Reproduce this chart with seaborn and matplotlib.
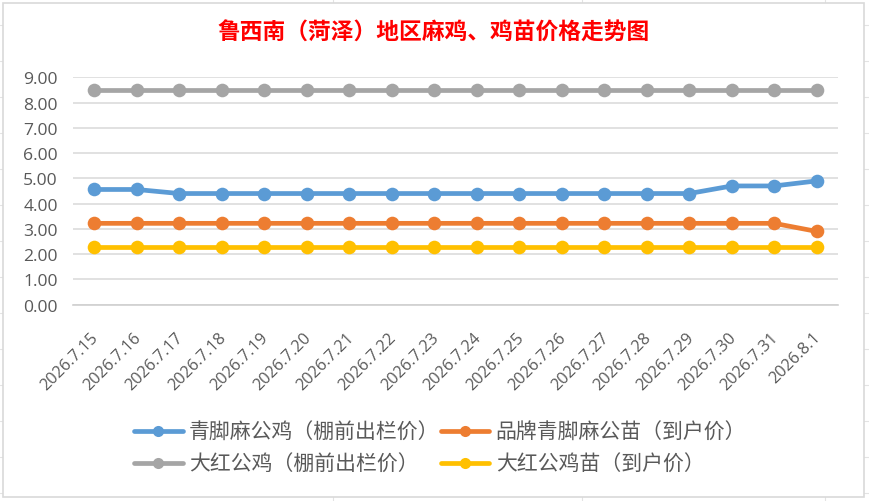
import matplotlib
matplotlib.use("Agg")
import matplotlib.pyplot as plt
from matplotlib.transforms import ScaledTranslation
from matplotlib.lines import Line2D
from matplotlib.patches import Rectangle
import seaborn as sns
import pandas as pd

# ---- data ----
dates = ["2026.7.15", "2026.7.16", "2026.7.17", "2026.7.18", "2026.7.19", "2026.7.20",
         "2026.7.21", "2026.7.22", "2026.7.23", "2026.7.24", "2026.7.25", "2026.7.26",
         "2026.7.27", "2026.7.28", "2026.7.29", "2026.7.30", "2026.7.31", "2026.8.1"]
s_blue_name = "青脚麻公鸡（棚前出栏价）"
s_orange_name = "品牌青脚麻公苗（到户价）"
s_gray_name = "大红公鸡（棚前出栏价）"
s_yellow_name = "大红公鸡苗（到户价）"
s_blue = [4.56, 4.56, 4.4, 4.4, 4.4, 4.4, 4.4, 4.4, 4.4, 4.4, 4.4, 4.4, 4.4, 4.4, 4.4, 4.7, 4.7, 4.9]
s_orange = [3.22, 3.22, 3.22, 3.22, 3.22, 3.22, 3.22, 3.22, 3.22, 3.22, 3.22, 3.22, 3.22, 3.22, 3.22, 3.22, 3.22, 2.9]
s_gray = [8.5] * 18
s_yellow = [2.28] * 18
yticks = [0, 1, 2, 3, 4, 5, 6, 7, 8, 9]
title = "鲁西南（菏泽）地区麻鸡、鸡苗价格走势图"

series_names = [s_blue_name, s_orange_name, s_gray_name, s_yellow_name]
series_vals = [s_blue, s_orange, s_gray, s_yellow]
colors = ["#5B9BD5", "#ED7D31", "#A5A5A5", "#FFC000"]

rows = []
for name, vals in zip(series_names, series_vals):
    for i, v in enumerate(vals):
        rows.append({"idx": i, "date": dates[i], "price": v, "series": name})
df = pd.DataFrame(rows)

# ---- style ----
sns.set_style("white")
plt.rcParams["font.family"] = ["Noto Sans CJK SC", "DejaVu Sans"]
TXT = "#595959"
GRID = "#D9D9D9"
NUMFONT = ["Open Sans", "DejaVu Sans"]

W, H = 870, 502
fig = plt.figure(figsize=(W / 100, H / 100), dpi=100)
fig.patch.set_facecolor("white")

# spreadsheet cell lines behind the chart
for y in range(26, 502, 36):
    fig.add_artist(Line2D([0, 1], [1 - y / H, 1 - y / H], color="#E3E3E3", lw=0.8,
                          transform=fig.transFigure, zorder=0))
for x in [333, 582, 825]:
    fig.add_artist(Line2D([x / W, x / W], [0, 1], color="#E3E3E3", lw=0.8,
                          transform=fig.transFigure, zorder=0))
# chart area
fig.add_artist(Rectangle((3 / W, 1 - 498 / H), (864 - 3) / W, (498 - 4) / H,
                         transform=fig.transFigure, facecolor="white",
                         edgecolor="#D9D9D9", lw=1.2, zorder=1))

ax = fig.add_axes([73 / W, 1 - 305.7 / H, (838 - 73) / W, (305.7 - 78.3) / H])
ax.set_facecolor("none")
ax.set_zorder(2)

sns.lineplot(data=df, x="idx", y="price", hue="series", hue_order=series_names,
             palette=colors, marker="o", markersize=9.8, markeredgewidth=0,
             linewidth=3.4, sort=False, ax=ax, legend=False)

ax.set_xlim(-0.5, len(dates) - 0.5)
ax.set_ylim(0, 9)
ax.set_yticks(yticks)
ax.set_yticklabels([f"{v:.2f}" for v in yticks], family=NUMFONT)
ax.set_xticks(range(len(dates)))
ax.set_xticklabels(dates, rotation=45, ha="right", va="center", rotation_mode="anchor",
                   family=NUMFONT)
ax.set_xlabel("")
ax.set_ylabel("")
ax.yaxis.grid(True, color=GRID, lw=1.1)
ax.xaxis.grid(False)
ax.set_axisbelow(True)
for s in ["left", "right", "top"]:
    ax.spines[s].set_visible(False)
ax.spines["bottom"].set_color("#D0D0D0")
ax.spines["bottom"].set_linewidth(1.2)
ax.tick_params(axis="both", length=0, colors=TXT)
ax.tick_params(axis="y", pad=11, labelsize=12.6)
ax.tick_params(axis="x", pad=0, labelsize=11.8)
for lab in ax.get_xticklabels():
    lab.set_transform(lab.get_transform() + ScaledTranslation(0.02, -0.30, fig.dpi_scale_trans))

# title
fig.text(434 / W, 1 - 33 / H, title, ha="center", va="center", color="#FF0000",
         fontsize=16.4, fontweight="bold")

# legend (two rows, two columns)
handles = [Line2D([], [], color=c, lw=3.4, marker="o", markersize=8, markeredgewidth=0)
           for c in colors]
order = [0, 2, 1, 3]
leg = fig.legend([handles[i] for i in order], [series_names[i] for i in order],
                 loc="center", bbox_to_anchor=(440 / W, 1 - 449 / H), ncol=2,
                 frameon=False, fontsize=15, handlelength=2.35, handletextpad=0.3,
                 columnspacing=0.05, labelspacing=0.5, borderpad=0)
for t in leg.get_texts():
    t.set_color(TXT)

fig.savefig("out.png", dpi=100, facecolor="white")
